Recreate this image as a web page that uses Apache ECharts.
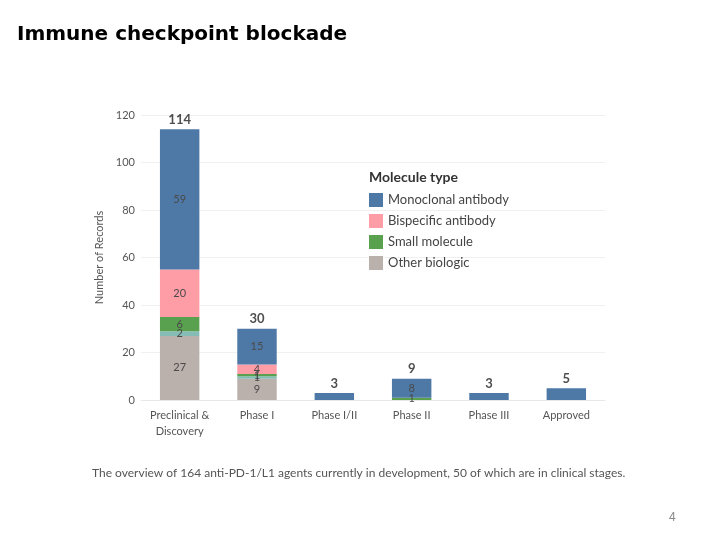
<!DOCTYPE html>
<html>
<head>
<meta charset="utf-8">
<script src="https://cdn.jsdelivr.net/npm/echarts@6/dist/echarts.min.js"></script>
<style>html,body{margin:0;padding:0;background:#fff}#c{width:720px;height:540px}</style>
</head>
<body>
<div id="c"></div>
<script>
const categories = ['Preclinical &\nDiscovery', 'Phase I', 'Phase I/II', 'Phase II', 'Phase III', 'Approved'];
const otherBiologic = [27, 9, 0, 0, 0, 0];
const otherTeal = [2, 1, 0, 0, 0, 0];
const smallMolecule = [6, 1, 0, 1, 0, 0];
const bispecific = [20, 4, 0, 0, 0, 0];
const monoclonal = [59, 15, 3, 8, 3, 5];
const yTicks = [0, 20, 40, 60, 80, 100, 120];

const all = [otherBiologic, otherTeal, smallMolecule, bispecific, monoclonal];
const totals = categories.map((_, i) => all.reduce((s, a) => s + a[i], 0));

const chart = echarts.init(document.getElementById('c'));
const font = 'Lato';
function seg(name, data, color) {
  return {
    name: name, type: 'bar', stack: 't', data: data.map(v => v === 0 ? null : v),
    barWidth: '51%',
    itemStyle: { color: color },
    label: {
      show: true, position: 'inside', fontFamily: font, fontSize: 11, color: '#4a4a4a',
      formatter: p => (p.value > 0 && totals[p.dataIndex] >= 9) ? String(p.value) : ''
    }
  };
}
chart.setOption({
  animation: false,
  title: [
    { text: 'Immune checkpoint blockade', left: 12, top: 20,
      textStyle: { fontFamily: 'DejaVu Sans', fontWeight: 'bold', fontSize: 20, color: '#000' } },
    { text: 'Molecule type', left: 364, top: 165,
      textStyle: { fontFamily: font, fontWeight: 'bold', fontSize: 14, color: '#333' } },
    { text: 'The overview of 164 anti-PD-1/L1 agents currently in development, 50 of which are in clinical stages.',
      left: 87, top: 462, textStyle: { fontFamily: font, fontWeight: 'normal', fontSize: 12, color: '#555' } },
    { text: '4', left: 664, top: 507, textStyle: { fontFamily: 'Liberation Sans', fontWeight: 'normal', fontSize: 12, color: '#888' } }
  ],
  legend: {
    orient: 'vertical', left: 364, top: 188, itemWidth: 14, itemHeight: 14, itemGap: 7,
    icon: 'rect', data: ['Monoclonal antibody', 'Bispecific antibody', 'Small molecule', 'Other biologic'],
    textStyle: { fontFamily: font, fontSize: 13, color: '#444' }
  },
  grid: { left: 141, right: 115, top: 115, bottom: 140 },
  xAxis: {
    type: 'category', data: categories,
    axisLine: { lineStyle: { color: '#e8e8e8' } }, axisTick: { show: false },
    axisLabel: { fontFamily: font, fontSize: 11, color: '#555', margin: 7, lineHeight: 16 }
  },
  yAxis: {
    type: 'value', min: yTicks[0], max: yTicks[yTicks.length - 1], interval: 20,
    name: 'Number of Records', nameLocation: 'middle', nameGap: 33,
    nameTextStyle: { fontFamily: font, fontSize: 11, color: '#555' },
    axisLabel: { fontFamily: font, fontSize: 11, color: '#555', margin: 6 },
    splitLine: { lineStyle: { color: '#f0f0f0' } },
    axisLine: { show: false }, axisTick: { show: false }
  },
  series: [
    seg('Other biologic', otherBiologic, '#bab0ac'),
    seg('Other', otherTeal, '#86bcb6'),
    seg('Small molecule', smallMolecule, '#59a14f'),
    seg('Bispecific antibody', bispecific, '#ff9da7'),
    seg('Monoclonal antibody', monoclonal, '#4e79a7'),
    {
      type: 'scatter', data: totals, symbolSize: 0, silent: true,
      label: { show: true, position: 'top', distance: 3, fontFamily: font, fontWeight: 'bold', fontSize: 13, color: '#222',
        formatter: p => String(p.value) }
    }
  ]
});
</script>
</body>
</html>
